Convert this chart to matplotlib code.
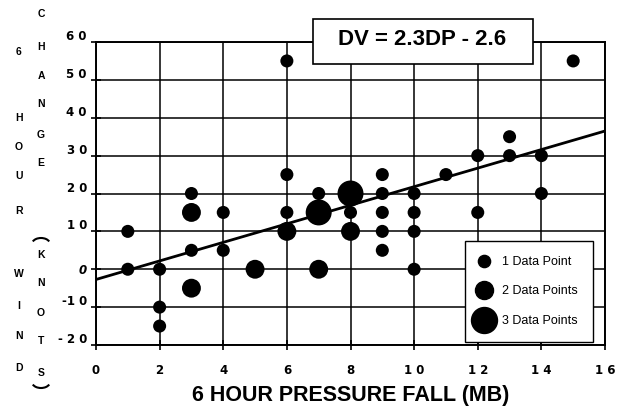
import matplotlib
matplotlib.use("Agg")
import matplotlib.pyplot as plt
import matplotlib.transforms as mtransforms
from matplotlib.lines import Line2D
from matplotlib.patches import Rectangle, Arc

plt.rcParams['font.family'] = ['Liberation Sans', 'DejaVu Sans']
plt.rcParams['font.weight'] = 'bold'

# Datos: caida de presion (mb), cambio de viento (kt), n. de puntos
pressure_fall = [1, 1,
                 2, 2, 2,
                 3, 3, 3, 3,
                 4, 4,
                 5,
                 6, 6, 6, 6,
                 7, 7, 7,
                 8, 8, 8,
                 9, 9, 9, 9, 9,
                 10, 10, 10, 10,
                 11,
                 12, 12,
                 13, 13,
                 14, 14,
                 15]
wind_change = [10, 0,
               0, -10, -15,
               20, 15, 5, -5,
               15, 5,
               0,
               55, 25, 15, 10,
               20, 15, 0,
               20, 15, 10,
               25, 20, 15, 10, 5,
               20, 15, 10, 0,
               25,
               30, 15,
               35, 30,
               30, 20,
               55]
n_points = [1, 1,
            1, 1, 1,
            1, 2, 1, 2,
            1, 1,
            2,
            1, 1, 1, 2,
            1, 3, 2,
            3, 1, 2,
            1, 1, 1, 1, 1,
            1, 1, 1, 1,
            1,
            1, 1,
            1, 1,
            1, 1,
            1]

# recta de regresion tal como esta dibujada
line_x = [0, 16]
line_y = [-2.7, 36.5]

x_ticks = [0, 2, 4, 6, 8, 10, 12, 14, 16]
x_tick_labels = ['0', '2', '4', '6', '8', '1 0', '1 2', '1 4', '1 6']
y_ticks = [-20, -10, 0, 10, 20, 30, 40, 50, 60]
y_tick_labels = ['- 2 0', '-1 0', '0', '1 0', '2 0', '3 0', '4 0', '5 0', '6 0']
legend_labels = ['1 Data Point', '2 Data Points', '3 Data Points']

# tamanos de marcador (area) para 1, 2, 3 puntos
size_map = {1: 88, 2: 185, 3: 350}
ms_map = {1: 8.8, 2: 13, 3: 18.7}

fig = plt.figure(figsize=(6.23, 4.12), dpi=100)
ax = fig.add_axes([96/623, 1-345/412, 509/623, 303/412])

ax.set_xlim(0, 16)
ax.set_ylim(-20, 60)
ax.set_xticks(x_ticks)
ax.set_xticklabels(x_tick_labels, fontsize=8.5, fontweight='bold', family='DejaVu Sans')
ax.set_yticks(y_ticks)
ax.set_yticklabels(y_tick_labels, fontsize=8.5, fontweight='bold', family='DejaVu Sans')
ax.tick_params(direction='inout', length=7, width=1.2, color='black')
ax.tick_params(axis='y', pad=3)
ax.tick_params(axis='x', pad=10)
ax.grid(True, color='black', linewidth=1.1)
ax.set_axisbelow(True)
for s in ax.spines.values():
    s.set_linewidth(1.4)

# las etiquetas del eje y estan algo por encima de su marca (menos el 0, en cursiva)
up = mtransforms.ScaledTranslation(0, 7/100, fig.dpi_scale_trans)
for lab, v in zip(ax.get_yticklabels(), y_ticks):
    if v == 0:
        lab.set_style('italic')
    else:
        lab.set_transform(lab.get_transform() + up)

sizes = [size_map[n] for n in n_points]
ax.scatter(pressure_fall, wind_change, s=sizes, color='black', zorder=3, linewidths=0)
ax.plot(line_x, line_y, color='black', linewidth=2, zorder=3)

ax.set_xlabel('6 HOUR PRESSURE FALL (MB)', fontsize=15.5, fontweight='bold', labelpad=6)

# caja con la ecuacion
ax.add_patch(Rectangle((6.82, 54.2), 6.92, 11.87, facecolor='white', edgecolor='black',
                       linewidth=1.2, clip_on=False, zorder=5))
ax.text(10.25, 60.6, 'DV = 2.3DP - 2.6', ha='center', va='center', fontsize=16,
        fontweight='bold', zorder=6, clip_on=False)

# leyenda
handles = [Line2D([], [], linestyle='none', marker='o', color='black', markersize=ms_map[n])
           for n in [1, 2, 3]]
leg = ax.legend(handles, legend_labels, loc='lower right', bbox_to_anchor=(0.976, 0.01),
                prop={'family': 'Liberation Sans', 'weight': 'normal', 'size': 9},
                labelspacing=1.4, handletextpad=1.15, borderpad=1.2,
                handlelength=0.6, borderaxespad=0, fancybox=False, framealpha=1,
                edgecolor='black')
leg.get_frame().set_linewidth(1.0)
leg.set_zorder(6)

# etiqueta vertical del eje y (dos columnas de letras)
col1 = ['6', 'H', 'O', 'U', 'R', 'W', 'I', 'N', 'D']
col1_y = [52, 118, 147, 176, 211, 274, 306, 336, 368]
col2 = ['C', 'H', 'A', 'N', 'G', 'E', 'K', 'N', 'O', 'T', 'S']
col2_y = [14, 47, 76, 104, 135, 163, 255, 283, 313, 341, 373]
for c, yy in zip(col1, col1_y):
    fig.text(19/623, 1-yy/412, c, ha='center', va='center', fontsize=7.5, fontweight='bold')
for c, yy in zip(col2, col2_y):
    fig.text(41/623, 1-yy/412, c, ha='center', va='center', fontsize=7.5, fontweight='bold')
# parentesis girados alrededor de KNOTS
fig.add_artist(Arc((41/623, 1-244/412), 18/623, 12/412, theta1=25, theta2=155,
                   transform=fig.transFigure, color='black', linewidth=1.5))
fig.add_artist(Arc((41/623, 1-382/412), 18/623, 12/412, theta1=205, theta2=335,
                   transform=fig.transFigure, color='black', linewidth=1.5))

fig.savefig('out.png', dpi=100)
